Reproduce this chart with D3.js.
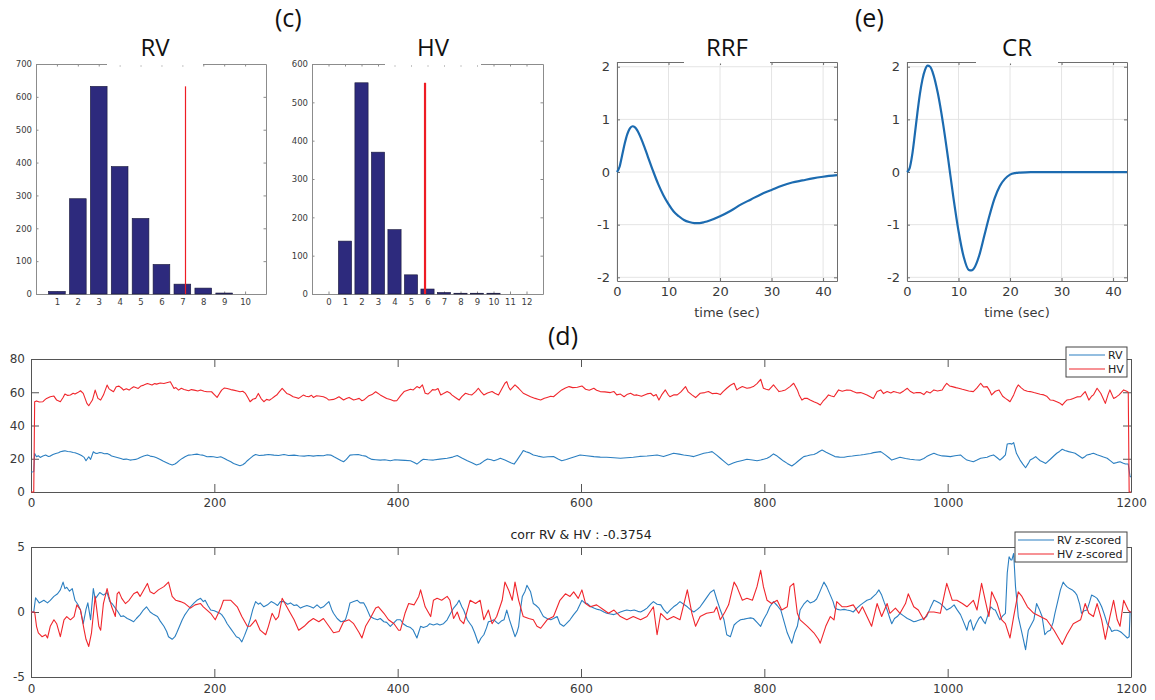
<!DOCTYPE html>
<html>
<head>
<meta charset="utf-8">
<script src="https://cdn.jsdelivr.net/npm/d3@7"></script>
<style>
  body { margin: 0; background: #fff; }
  svg text { font-family: "DejaVu Sans", sans-serif; }
</style>
</head>
<body>
<svg id="fig" width="1155" height="700"></svg>
<script>
//Histogram data (c)
var rvBins = [1, 2, 3, 4, 5, 6, 7, 8, 9, 10];
var rvCounts = [8, 290, 632, 388, 230, 90, 30, 18, 3, 0];
var rvThresh = 7.15;
var hvBins = [0, 1, 2, 3, 4, 5, 6, 7, 8, 9, 10, 11, 12];
var hvCounts = [0, 138, 551, 370, 168, 50, 13, 4, 2, 2, 2, 0, 0];
var hvThresh = 5.85;

//Response functions (e)
var rrfT = [0, 0.5, 1, 1.5, 2, 2.5, 3, 3.5, 4, 5, 6, 7, 8, 9, 10, 11, 12, 13, 14, 15, 16, 17, 18, 20, 22, 24, 26, 28, 30, 32, 34, 36, 38, 40, 42.7];
var rrfV = [0, 0.10, 0.32, 0.54, 0.72, 0.83, 0.87, 0.85, 0.78, 0.56, 0.29, 0.02, -0.23, -0.44, -0.61, -0.75, -0.84, -0.91, -0.95, -0.97, -0.97, -0.95, -0.92, -0.84, -0.74, -0.62, -0.52, -0.42, -0.34, -0.26, -0.20, -0.16, -0.12, -0.09, -0.06];
var crT = [0, 0.5, 1, 1.5, 2, 2.5, 3, 3.5, 4, 4.5, 5, 6, 7, 8, 9, 10, 11, 12, 12.5, 13, 14, 15, 16, 17, 18, 19, 20, 21, 22, 24, 30, 42.7];
var crV = [0, 0.07, 0.32, 0.70, 1.11, 1.48, 1.76, 1.94, 2.02, 2.0, 1.89, 1.49, 0.92, 0.24, -0.48, -1.12, -1.61, -1.86, -1.87, -1.83, -1.59, -1.21, -0.83, -0.50, -0.27, -0.13, -0.05, -0.02, -0.01, 0, 0, 0];

//Time series (d): [time, value]
var rvRaw = [[0,12],[3,12.2],[4,23.2],[6,21.2],[8,21.8],[10,20.8],[13,21.6],[16,22.2],[19,21.4],[21,21.6],[24,22.6],[27,23.2],[30,23.6],[32,24.2],[35,24.6],[37,24.8],[40,24.4],[43,24.2],[46,23.8],[48,23.6],[51,23],[54,22.2],[56,21.6],[58,20.8],[60,18.8],[63,21.2],[65,19.6],[68,24.2],[70,23.4],[72,23.2],[75,23.8],[77,23.6],[80,23],[83,23.2],[86,22.4],[88,21.6],[91,21.2],[94,20.8],[98,20.2],[101,19.6],[104,19.8],[108,19.2],[111,19.4],[114,19.6],[117,20.2],[119,20.8],[123,21.6],[127,22.2],[130,21.6],[134,21.2],[137,20.6],[141,19.6],[144,18.6],[148,17.6],[151,16.8],[154,16.2],[157,16.8],[159,17.6],[162,19],[165,20.2],[168,21.2],[172,22.2],[176,22.4],[181,22.8],[184,22.4],[187,22.2],[190,21.6],[192,21.2],[196,21.4],[199,21.2],[203,20.8],[207,21.2],[211,20.2],[214,19.2],[218,18.2],[221,17.2],[224,16.6],[228,15.8],[231,16.4],[234,17.6],[236,18.8],[239,20.2],[242,21.6],[245,22.6],[249,22],[254,22.2],[259,22.6],[265,22.2],[270,22],[276,22.6],[281,22],[287,22.2],[292,21.8],[298,21.6],[303,22],[308,21.6],[313,22],[319,21.8],[323,22.4],[327,22.2],[331,21],[334,20.2],[338,19],[341,18.2],[344,19.6],[348,22.2],[352,22.4],[357,22.6],[361,22],[365,21.6],[368,20.6],[372,19.6],[376,19.4],[381,19.2],[386,19.4],[392,18.8],[397,19.4],[403,19.2],[408,19],[414,18.8],[418,17.8],[421,16.8],[425,18.6],[428,19.7],[433,19.4],[439,19.2],[446,19.8],[454,20.3],[460,21],[465,21.9],[470,20.4],[476,18.8],[481,17.6],[486,16.2],[490,17],[494,18.6],[498,19.9],[502,19.4],[505,18.8],[509,19.6],[512,20.3],[517,19.2],[521,18.2],[524,17.4],[527,16.8],[530,19],[534,22.3],[537,24.9],[540,24.2],[543,23.7],[548,22.3],[553,21.6],[559,20.9],[564,21.2],[570,21.3],[575,19.8],[579,18.8],[584,19.6],[588,20.3],[594,21.4],[599,22.3],[606,21.8],[614,21.3],[621,21],[628,20.9],[636,20.6],[643,20.3],[650,20.6],[657,20.9],[664,21.4],[672,21.7],[678,22],[683,22.3],[690,21.3],[696,22.4],[701,23.3],[707,22.8],[712,22.3],[718,21.8],[723,21.3],[729,22.4],[734,23.3],[739,23.8],[743,24.3],[748,22.2],[752,20.3],[757,18],[761,16.2],[766,17.4],[770,18.2],[776,19],[781,19.7],[787,19.2],[792,18.8],[796,19.2],[803,20.3],[806,21.2],[810,22.9],[814,21.6],[817,20.3],[821,18.6],[825,17.2],[830,15.6],[833,16.8],[836,18.2],[840,20],[843,21.3],[847,21.8],[850,22.3],[854,22.6],[857,23.3],[860,24.4],[863,25.3],[866,24.4],[868,23.7],[873,22.4],[877,21.3],[882,21],[887,20.9],[891,21.4],[896,21.7],[900,22],[905,22.3],[909,22.6],[912,22.9],[916,23.2],[919,23.7],[923,24],[927,24.3],[932,22.3],[936,20.6],[939,19.2],[944,20.2],[948,20.9],[954,20.2],[959,19.7],[964,19.4],[970,19.2],[974,20.2],[977,21.3],[981,22.4],[985,23.3],[989,22.4],[994,21.7],[998,21.6],[1003,21.3],[1008,21.8],[1014,22.3],[1017,20.8],[1021,19.2],[1025,18.6],[1028,18.2],[1032,19.2],[1036,20.3],[1043,20.9],[1046,21.6],[1050,22.3],[1054,20.6],[1057,19.2],[1060,20.6],[1063,22.3],[1065,28.9],[1068,29.2],[1070,28.8],[1072,29.7],[1075,23.3],[1079,19.2],[1082,16.8],[1085,14.6],[1088,17.2],[1090,19.2],[1093,20.2],[1096,21.3],[1098,20.2],[1101,18.8],[1104,18],[1107,17.2],[1112,19.7],[1116,21.8],[1119,23.3],[1122,24.4],[1125,25.7],[1128,25],[1132,24.3],[1136,23.8],[1139,23.3],[1143,21.8],[1147,20.3],[1150,21.4],[1152,22.3],[1156,22.8],[1159,23.3],[1163,22.4],[1167,21.7],[1170,21],[1174,20.3],[1178,18.6],[1181,17.2],[1185,17.8],[1188,18.2],[1191,17.4],[1194,16.8],[1197,16.8],[1199,9.2],[1200,9.2]];

var hvRaw = [[0,0],[3,0],[4,54.3],[6,54.8],[9,54.1],[13,54.3],[15,55.4],[17,56.3],[21,57.3],[25,57.7],[28,55.3],[32,54.3],[35,56.8],[37,58.9],[40,58.1],[43,58.3],[46,59.4],[48,58.9],[51,59.8],[54,60.9],[57,59.3],[61,53.3],[63,51.9],[67,55.3],[70,61.3],[73,56.3],[76,55.3],[79,58.3],[83,64.3],[85,62.2],[87,61.3],[90,60.3],[93,63.3],[96,63.7],[99,62.4],[101,61.3],[104,62.1],[107,61.3],[110,62.6],[112,63.3],[117,62.3],[120,63.8],[123,64.3],[127,65.3],[132,64.3],[135,65.2],[137,64.9],[141,65.6],[145,65.3],[149,65.9],[152,66.3],[156,62.3],[158,62.8],[161,61.3],[164,62.4],[167,61.7],[172,60.9],[175,61.6],[178,61.3],[182,60.8],[185,61.3],[189,60.6],[192,60.3],[197,60.3],[200,58.6],[203,56.9],[206,59.6],[208,61.3],[211,62.6],[214,62.3],[218,61.6],[221,61.3],[225,60.8],[228,60.3],[231,60.6],[234,59.3],[237,56.4],[239,54.3],[242,55.8],[245,56.3],[248,59.3],[251,56.2],[254,54.3],[257,55.7],[260,55.2],[263,56.3],[266,57.6],[268,58.3],[271,60.4],[274,62.3],[279,59.3],[282,58.6],[286,57.3],[289,56.8],[292,56.3],[297,58.3],[300,57.6],[303,57.3],[306,58.2],[308,56.9],[311,57.8],[314,57.7],[319,57.3],[322,56.6],[325,55.3],[330,55.7],[333,56.4],[336,57.3],[341,55.3],[344,56.2],[347,56.9],[352,55.3],[355,55.8],[358,56.3],[361,54.9],[363,55.3],[368,57.7],[372,58.6],[376,60.3],[381,58.4],[385,57.2],[388,56.3],[392,55.6],[396,54.8],[399,54.9],[403,57.8],[407,60.4],[411,61.2],[414,61.8],[417,61.4],[421,63.4],[424,62.6],[427,64.4],[430,59.4],[433,58.9],[436,60.4],[438,61.6],[441,61.4],[444,62.2],[447,58.4],[450,59.2],[454,60.4],[457,59.6],[459,58.4],[463,56.8],[467,55.3],[470,57.4],[474,59.4],[478,58.6],[481,58.4],[485,60.4],[488,62.4],[491,60.2],[494,58.4],[498,59.6],[503,60.4],[506,59.4],[510,58.4],[514,62.4],[517,65.4],[519,66.4],[521,63.2],[523,61.4],[526,63.2],[528,64.4],[532,62.4],[535,60.6],[537,59.4],[541,58.4],[545,57.3],[550,56.3],[553,55.8],[556,55.3],[560,56.4],[563,56.9],[567,57.6],[570,57.3],[575,59.6],[579,61.4],[583,62.6],[587,63.4],[591,62.8],[596,63.0],[601,63.8],[605,61.8],[609,61.2],[614,62.4],[617,61.2],[621,60.4],[626,60.2],[632,59.8],[636,60.4],[639,58.4],[643,58.9],[647,57.3],[650,58.6],[654,59.4],[658,58.2],[661,58.4],[666,57.6],[672,59.0],[676,59.4],[679,57.8],[682,58.6],[685,55.3],[688,58.4],[692,61.4],[695,58.6],[697,57.3],[701,58.4],[705,58.4],[709,60.2],[714,63.4],[717,60.2],[721,58.4],[725,56.8],[730,59.4],[735,59.8],[739,60.4],[743,59.2],[748,59.4],[752,58.6],[755,60.4],[759,62.4],[763,64.2],[767,65.4],[770,61.4],[773,62.6],[776,63.4],[781,62.4],[785,62.8],[788,63.4],[792,65.2],[796,67.8],[799,62.4],[802,61.8],[805,61.4],[808,63.2],[810,64.4],[813,62.4],[816,60.4],[819,60.8],[823,61.4],[828,63.4],[832,65.4],[836,61.4],[838,58.4],[841,55.3],[844,56.4],[847,56.3],[850,55.4],[854,54.3],[858,53.4],[861,52.3],[864,54.6],[867,56.3],[870,58.4],[873,57.8],[876,57.3],[879,59.8],[881,61.4],[885,60.6],[890,61.4],[894,61.2],[897,60.4],[901,59.6],[905,59.8],[908,59.2],[912,58.4],[916,57.2],[919,56.3],[923,60.4],[927,61.4],[930,59.2],[934,60.4],[938,59.6],[941,60.4],[945,59.8],[948,59.4],[952,60.8],[956,62.4],[959,60.6],[963,59.4],[966,59.8],[970,59.8],[974,58.6],[977,60.4],[981,59.6],[985,61.4],[989,60.8],[994,61.4],[996,63.2],[999,65.4],[1002,63.8],[1005,63.4],[1009,62.8],[1012,62.4],[1016,61.8],[1019,61.4],[1023,60.8],[1028,60.4],[1032,62.6],[1036,65.4],[1039,63.2],[1043,63.4],[1046,60.8],[1048,58.4],[1052,60.6],[1056,61.4],[1060,57.6],[1063,56.3],[1066,55.2],[1068,54.3],[1072,58.4],[1075,62.6],[1077,64.4],[1080,62.8],[1083,61.4],[1087,60.6],[1090,60.4],[1094,59.8],[1097,59.4],[1101,58.8],[1105,58.4],[1108,57.6],[1112,55.3],[1115,55.2],[1119,54.3],[1122,53.6],[1125,52.3],[1128,54.2],[1130,55.3],[1134,55.6],[1137,56.3],[1141,57.2],[1145,57.3],[1148,59.2],[1150,60.4],[1154,55.3],[1157,57.6],[1159,58.4],[1163,62.4],[1167,59.4],[1170,55.8],[1172,53.3],[1175,58.6],[1177,61.4],[1181,56.3],[1184,57.2],[1187,58.4],[1190,60.2],[1192,61.4],[1196,60.4],[1197,60],[1198,0],[1200,0]];

var rvZ = [[0,0],[3,0],[5,1.1],[9,0.7],[14,0.9],[18,0.7],[21,0.9],[25,1.2],[29,1.4],[32,1.7],[35,2.3],[37,1.8],[39,1.9],[42,1.6],[45,1.8],[48,0.9],[51,0.6],[54,0.15],[57,-0.9],[60,0.2],[62,0.7],[65,-0.6],[68,1.8],[70,1.0],[72,1.2],[75,1.5],[79,1.3],[83,1.5],[86,0.8],[89,0.6],[92,0.3],[95,0.0],[98,-0.35],[101,-0.3],[105,-0.5],[108,-0.6],[112,-0.75],[115,-0.5],[119,-0.2],[122,0.1],[126,0.4],[130,0.0],[134,-0.2],[138,-0.35],[141,-0.7],[145,-1.1],[148,-1.5],[150,-1.9],[154,-2.1],[157,-1.9],[159,-1.6],[162,-1.1],[165,-0.6],[168,-0.2],[170,0.0],[174,0.4],[178,0.7],[181,0.9],[185,1.05],[188,0.8],[190,0.9],[193,0.5],[196,0.15],[200,0.1],[203,0.0],[206,-0.1],[208,-0.2],[211,-0.5],[214,-0.9],[218,-1.3],[221,-1.6],[224,-1.9],[227,-2.0],[230,-2.3],[233,-1.8],[236,-1.25],[239,-0.6],[242,0.2],[245,0.8],[248,0.6],[250,0.7],[254,0.4],[258,0.55],[262,0.8],[265,0.7],[269,0.5],[272,0.8],[276,0.8],[280,0.6],[283,0.7],[287,0.5],[290,0.55],[294,0.3],[297,0.4],[301,0.5],[305,0.4],[308,0.3],[312,0.55],[316,0.3],[319,0.4],[322,0.6],[325,0.8],[328,0.2],[330,-0.1],[334,-0.5],[338,-0.75],[341,-0.7],[343,-0.6],[346,0.1],[348,0.7],[352,0.8],[356,0.9],[359,0.7],[363,0.7],[366,0.3],[370,-0.35],[374,-0.5],[378,-0.6],[381,-0.5],[385,-0.75],[388,-0.8],[392,-1.1],[395,-0.9],[399,-0.6],[403,-0.6],[406,-0.9],[410,-1.1],[414,-1.2],[417,-1.4],[421,-2.0],[425,-1.1],[428,-1.2],[432,-1.1],[435,-0.9],[439,-1.0],[443,-0.9],[446,-1.0],[450,-0.9],[454,-0.6],[457,-0.2],[461,0.3],[465,0.65],[467,0.9],[470,0.4],[472,0.15],[476,-0.6],[479,-0.9],[481,-1.1],[484,-1.6],[488,-2.4],[491,-2.0],[494,-1.75],[497,-1.2],[499,-0.75],[502,-0.7],[505,-0.6],[508,-0.8],[510,-0.9],[513,-0.7],[516,-0.6],[519,0.15],[522,-0.6],[525,-1.25],[528,-1.9],[530,-1.6],[532,-1.1],[534,0.2],[536,1.2],[539,1.6],[541,2.05],[543,1.8],[545,1.55],[548,0.65],[551,0.5],[554,0.3],[557,-0.1],[559,-0.35],[563,-0.5],[567,-0.6],[570,-0.5],[574,-0.35],[577,-0.9],[581,-1.1],[584,-0.9],[588,-0.6],[592,-0.2],[596,0.15],[599,0.6],[601,0.9],[604,0.7],[607,0.65],[611,0.4],[614,0.3],[618,0.2],[621,0.15],[625,0.0],[628,-0.1],[632,-0.15],[636,-0.2],[640,-0.1],[643,0.0],[647,0.1],[650,0.15],[654,0.1],[658,0.15],[662,0.05],[665,0.0],[669,0.15],[672,0.3],[676,0.6],[679,0.8],[683,0.6],[687,0.55],[690,0.2],[694,-0.1],[698,0.2],[701,0.4],[705,0.6],[708,0.8],[712,0.6],[716,0.4],[719,0.2],[723,0.0],[727,0.2],[730,0.4],[734,0.8],[738,1.2],[741,1.5],[745,1.7],[748,1.0],[752,0.15],[756,-0.6],[759,-1.75],[763,-1.9],[767,-1.0],[770,-0.8],[774,-0.6],[778,-0.55],[781,-0.5],[785,-0.45],[788,-0.5],[792,-0.8],[796,-1.1],[799,-0.6],[803,-0.1],[806,0.4],[810,0.8],[814,0.5],[818,0.15],[821,-0.6],[825,-1.6],[828,-2.1],[830,-2.4],[833,-1.6],[836,-1.1],[839,0.15],[843,0.6],[847,0.9],[850,0.7],[854,0.8],[857,1.0],[859,1.3],[862,1.8],[865,2.3],[868,1.95],[872,1.3],[875,0.8],[877,0.3],[880,0.2],[883,0.15],[887,0.2],[890,0.15],[894,0.1],[897,0.0],[901,0.3],[905,0.55],[908,0.7],[912,0.9],[916,1.0],[919,1.2],[922,1.4],[925,1.7],[928,1.3],[931,0.7],[934,0.15],[937,-0.5],[939,-0.9],[942,-0.5],[945,-0.35],[948,-0.1],[952,-0.3],[956,-0.5],[959,-0.6],[963,-0.75],[966,-0.7],[970,-0.6],[974,-0.5],[977,-0.35],[981,0.3],[985,0.9],[988,0.8],[992,0.65],[996,0.4],[999,0.15],[1003,0.3],[1007,0.55],[1010,0.2],[1014,-0.2],[1017,-0.7],[1021,-1.4],[1023,-0.8],[1025,-0.6],[1028,-1.4],[1031,-0.9],[1034,-0.5],[1036,-0.35],[1039,-0.7],[1041,-0.9],[1044,-0.2],[1047,0.4],[1050,0.2],[1052,0.15],[1055,-0.3],[1057,-0.6],[1060,-0.3],[1063,-0.1],[1065,3.0],[1067,4.25],[1069,4.0],[1070,4.0],[1072,4.5],[1074,1.95],[1076,0.5],[1077,-0.35],[1081,-1.6],[1085,-2.9],[1088,-1.4],[1091,-1.0],[1094,-0.6],[1097,0.65],[1100,0.2],[1103,-0.35],[1106,-1.75],[1109,-1.5],[1112,-1.4],[1115,-0.8],[1117,-0.1],[1120,0.8],[1123,1.7],[1126,2.3],[1128,2.1],[1130,1.95],[1133,1.8],[1136,1.7],[1139,1.5],[1141,1.3],[1144,0.6],[1146,-0.1],[1149,0.1],[1152,0.15],[1155,0.8],[1157,1.3],[1160,1.2],[1163,1.05],[1166,0.7],[1168,0.4],[1171,-0.2],[1174,-0.9],[1177,-1.2],[1179,-1.5],[1182,-1.4],[1185,-1.4],[1188,-1.5],[1190,-1.6],[1193,-1.8],[1196,-2.0],[1198,-1.9],[1199,0],[1200,0]];

var hvZ = [[0,0],[4,0],[6,-1.1],[8,-1.6],[12,-1.9],[16,-1.75],[18,-2.0],[21,-1.1],[25,-0.6],[28,-0.9],[32,-1.9],[36,-0.6],[39,-0.35],[43,-0.6],[47,-0.35],[50,0.55],[54,0.15],[58,-1.4],[60,-2.1],[63,-2.65],[66,-1.6],[70,1.2],[74,-1.1],[76,-1.4],[79,0.65],[83,1.8],[85,1.2],[88,0.4],[92,-0.35],[94,1.4],[96,1.55],[99,1.05],[103,0.65],[107,0.9],[112,1.4],[116,1.55],[119,1.2],[123,1.7],[127,2.2],[130,1.55],[134,1.4],[139,1.7],[145,1.95],[150,2.3],[154,1.2],[158,0.9],[163,0.8],[168,0.65],[174,0.3],[179,0.55],[185,0.65],[188,0.4],[192,0.15],[196,-0.1],[201,-0.6],[207,0.3],[210,0.9],[218,0.9],[225,0.4],[230,-0.35],[236,-1.1],[239,-1.1],[245,-0.6],[250,-1.4],[256,-1.75],[259,-1.1],[263,-0.1],[267,-0.6],[270,-0.35],[274,1.05],[279,0.4],[287,-0.6],[292,-1.4],[298,-1.1],[303,-0.75],[308,-0.5],[314,-0.75],[319,-0.5],[325,-1.1],[330,-1.6],[336,-1.5],[341,-0.75],[347,-0.6],[352,-0.9],[358,-1.6],[361,-2.0],[365,-1.1],[370,-0.5],[376,0.3],[379,0.4],[385,-0.1],[390,-0.6],[396,-0.9],[401,-1.4],[403,-1.4],[408,-0.1],[412,0.65],[418,0.55],[423,1.2],[425,1.7],[430,0.4],[436,-0.35],[439,0.9],[443,1.05],[448,0.9],[454,1.2],[457,0.9],[461,-0.5],[465,0],[468,-0.6],[472,-0.9],[479,0.9],[485,0.65],[490,0.9],[494,-0.6],[499,0.15],[503,-0.9],[508,-0.35],[514,0.9],[517,2.3],[521,1.7],[525,0.9],[528,2.3],[532,0.9],[537,-0.35],[543,-0.5],[548,-0.6],[552,-1.1],[556,-1.25],[563,-0.6],[570,-0.35],[577,0.9],[583,1.4],[588,1.2],[592,1.55],[597,1.05],[601,1.7],[605,0.65],[610,0.4],[617,0.55],[625,0.15],[630,-0.1],[636,0.15],[643,-0.35],[650,-0.6],[657,-0.35],[665,-0.6],[672,-0.35],[679,0.4],[683,-1.75],[687,-0.1],[694,-0.6],[701,-0.35],[708,-0.6],[716,1.7],[721,-0.1],[725,-1.1],[730,-0.35],[737,-0.1],[745,0],[748,0.4],[752,-0.6],[757,0],[761,0.55],[767,2.3],[770,1.95],[776,0.9],[781,1.05],[787,0.9],[792,1.95],[796,3.2],[799,1.95],[803,0.9],[808,0.65],[814,0.9],[819,0.15],[825,0.4],[828,1.95],[832,2.2],[836,-0.1],[839,-0.6],[847,-1.1],[854,-1.6],[859,-2.1],[861,-2.4],[867,-1.1],[872,-0.35],[876,-0.6],[879,0.8],[885,0.4],[890,0.4],[897,0.55],[903,-0.1],[907,0.4],[912,-0.35],[917,-1.1],[923,0.65],[928,-0.35],[934,0.65],[937,-0.1],[943,0.3],[948,-0.1],[954,0.65],[957,1.4],[963,0.4],[968,0.15],[974,-0.6],[979,0],[985,0],[992,-0.1],[999,2.2],[1005,0.9],[1010,0.9],[1016,0.65],[1021,0.4],[1028,0.9],[1032,0.15],[1037,2.2],[1041,0.9],[1045,-0.35],[1048,1.55],[1054,0.65],[1059,-0.6],[1063,-0.9],[1068,-2.0],[1072,-0.35],[1077,1.55],[1081,1.2],[1087,0.4],[1094,-0.1],[1101,-0.35],[1108,-0.6],[1116,-1.4],[1125,-2.5],[1130,-1.75],[1137,-0.9],[1145,-0.6],[1150,0.65],[1154,-0.1],[1159,-0.35],[1163,0.65],[1168,-0.6],[1172,-2.1],[1177,-0.35],[1181,0.9],[1185,-0.6],[1188,-1.1],[1192,0.9],[1197,0.15],[1199,0],[1200,0]];

var corrTitle = "corr RV & HV : -0.3754";

var blue = "#2b7fc1", red = "#f0262c", navy = "#2d2a7d";

//Create SVG element
var svg = d3.select("#fig");
svg.append("rect").attr("width", 1155).attr("height", 700).attr("fill", "#fff");

var fmt = function(d) { return String(d); };

//MATLAB-like boxed axes with inward ticks on all four sides
function axes(x, y, o) {
  var g = svg.append("g");
  var xr = x.range(), yr = y.range();
  if (o.grid) {
    g.selectAll(".vg").data(o.xt).enter().append("line")
      .attr("x1", function(d) { return x(d); }).attr("x2", function(d) { return x(d); })
      .attr("y1", yr[1]).attr("y2", yr[0]).attr("stroke", "#e4e4e4");
    g.selectAll(".hg").data(o.yt).enter().append("line")
      .attr("y1", function(d) { return y(d); }).attr("y2", function(d) { return y(d); })
      .attr("x1", xr[0]).attr("x2", xr[1]).attr("stroke", "#e4e4e4");
  }
  var list = [
    [d3.axisBottom(x).tickValues(o.xt).tickFormat(fmt).tickPadding(o.px), "0," + yr[0]],
    [d3.axisTop(x).tickValues(o.xt).tickFormat(""), "0," + yr[1]],
    [d3.axisLeft(y).tickValues(o.yt).tickFormat(fmt).tickPadding(o.py), xr[0] + ",0"],
    [d3.axisRight(y).tickValues(o.yt).tickFormat(""), xr[1] + ",0"]
  ];
  list.forEach(function(a) {
    g.append("g").attr("transform", "translate(" + a[1] + ")")
      .call(a[0].tickSizeInner(-o.tl).tickSizeOuter(0));
  });
  g.selectAll(".domain").attr("stroke", o.col);
  g.selectAll(".tick line").attr("stroke", o.col);
  g.selectAll(".tick text").attr("fill", "#3a3a3a")
    .attr("font-size", o.fs).attr("font-family", "'DejaVu Sans', sans-serif");
  return g;
}

function title(txt, cx, yTop, base, halfGap) {
  svg.append("rect").attr("x", cx - halfGap).attr("y", yTop - 1.5)
    .attr("width", 2 * halfGap).attr("height", 3).attr("fill", "#fff");
  svg.append("text").attr("x", cx).attr("y", base).attr("text-anchor", "middle")
    .style("font-family", "'Open Sans', sans-serif").style("font-size", "24px")
    .attr("fill", "#111").text(txt);
}

function panelLabel(txt, x, y) {
  svg.append("text").attr("x", x).attr("y", y)
    .style("font-family", "'Open Sans', sans-serif").style("font-size", "25px")
    .attr("fill", "#111").text(txt);
}

//Histogram panels
function histogram(bins, counts, thresh, xDom, yMax, x0, x1, tw) {
  var x = d3.scaleLinear().domain(xDom).range([x0, x1]);
  var y = d3.scaleLinear().domain([0, yMax]).range([294, 64]);
  axes(x, y, { xt: bins, yt: d3.range(0, yMax + 1, 100), tl: 2.5, px: 5, py: 4, fs: 8.5, col: "#8c8c8c" });
  var rows = bins.map(function(b, i) { return { b: b, c: counts[i] }; })
                 .filter(function(d) { return d.c > 0; });
  svg.append("g").selectAll("rect").data(rows).enter().append("rect")
    .attr("x", function(d) { return x(d.b - 0.4); })
    .attr("width", x(0.8) - x(0))
    .attr("y", function(d) { return y(d.c); })
    .attr("height", function(d) { return y(0) - y(d.c); })
    .attr("fill", navy).attr("stroke", "#1a1a3a").attr("stroke-width", 0.6);
  svg.append("line")
    .attr("x1", x(thresh)).attr("x2", x(thresh))
    .attr("y1", y(0)).attr("y2", y(d3.max(counts)))
    .attr("stroke", "#ee1c24").attr("stroke-width", tw);
}
histogram(rvBins, rvCounts, rvThresh, [0, 11], 700, 36, 266, 1.2);
histogram(hvBins, hvCounts, hvThresh, [-1, 13], 600, 312, 543, 2.2);

//Response function panels
function response(t, v, x0, x1) {
  var x = d3.scaleLinear().domain([0, 42.7]).range([x0, x1]);
  var y = d3.scaleLinear().domain([-2.07, 2.09]).range([281, 62]);
  axes(x, y, { xt: [0, 10, 20, 30, 40], yt: [-2, -1, 0, 1, 2], tl: 3, px: 6, py: 7, fs: 13, col: "#6e6e6e", grid: true });
  var pts = t.map(function(d, i) { return [d, v[i]]; });
  svg.append("path").datum(pts)
    .attr("d", d3.line().x(function(d) { return x(d[0]); }).y(function(d) { return y(d[1]); })
      .curve(d3.curveMonotoneX))
    .attr("fill", "none").attr("stroke", "#1c6bb0").attr("stroke-width", 2.2);
  svg.append("text").attr("x", (x0 + x1) / 2).attr("y", 317).attr("text-anchor", "middle")
    .attr("font-size", 13).attr("fill", "#3a3a3a").text("time (sec)");
}
response(rrfT, rrfV, 617, 837);
response(crT, crV, 907, 1127);

title("RV", 155, 64, 56, 48);
title("HV", 433, 64, 56, 48);
title("RRF", 727, 62, 56, 43);
title("CR", 1017, 62, 56, 41);
panelLabel("(c)", 275, 27);
panelLabel("(e)", 855, 27);
panelLabel("(d)", 548, 345);

//Time series panels
var xTS = d3.scaleLinear().domain([0, 1200]).range([31, 1131]);
var yTop = d3.scaleLinear().domain([0, 80]).range([492, 359]);
var yBot = d3.scaleLinear().domain([-5, 5]).range([677, 547]);
var xTicks = d3.range(0, 1201, 200);

axes(xTS, yTop, { xt: xTicks, yt: [0, 20, 40, 60, 80], tl: 8, px: 6, py: 6, fs: 12, col: "#555" });
axes(xTS, yBot, { xt: xTicks, yt: [-5, 0, 5], tl: 8, px: 7, py: 6, fs: 12, col: "#555" });

function series(data, y, color) {
  svg.append("path").datum(data)
    .attr("d", d3.line().x(function(d) { return xTS(d[0]); }).y(function(d) { return y(d[1]); }))
    .attr("fill", "none").attr("stroke", color).attr("stroke-width", 1.1)
    .attr("stroke-linejoin", "round");
}
series(rvRaw, yTop, blue);
series(hvRaw, yTop, red);
series(rvZ, yBot, blue);
series(hvZ, yBot, red);

svg.append("text").attr("x", 581).attr("y", 539).attr("text-anchor", "middle")
  .attr("font-size", 12.5).attr("fill", "#222").text(corrTitle);

//Legends
function legend(x, y, w, names, colors) {
  var g = svg.append("g").attr("transform", "translate(" + x + "," + y + ")");
  g.append("rect").attr("width", w).attr("height", 30)
    .attr("fill", "#fff").attr("stroke", "#444").attr("stroke-width", 1);
  names.forEach(function(n, i) {
    var cy = 8 + i * 14;
    g.append("line").attr("x1", 3).attr("x2", 39).attr("y1", cy).attr("y2", cy)
      .attr("stroke", colors[i]).attr("stroke-width", 1.1);
    g.append("text").attr("x", 42).attr("y", cy + 4)
      .attr("font-size", 11).attr("fill", "#222").text(n);
  });
}
legend(1066, 347, 61, ["RV", "HV"], [blue, red]);
legend(1015, 532, 112, ["RV z-scored", "HV z-scored"], [blue, red]);
</script>
</body>
</html>
